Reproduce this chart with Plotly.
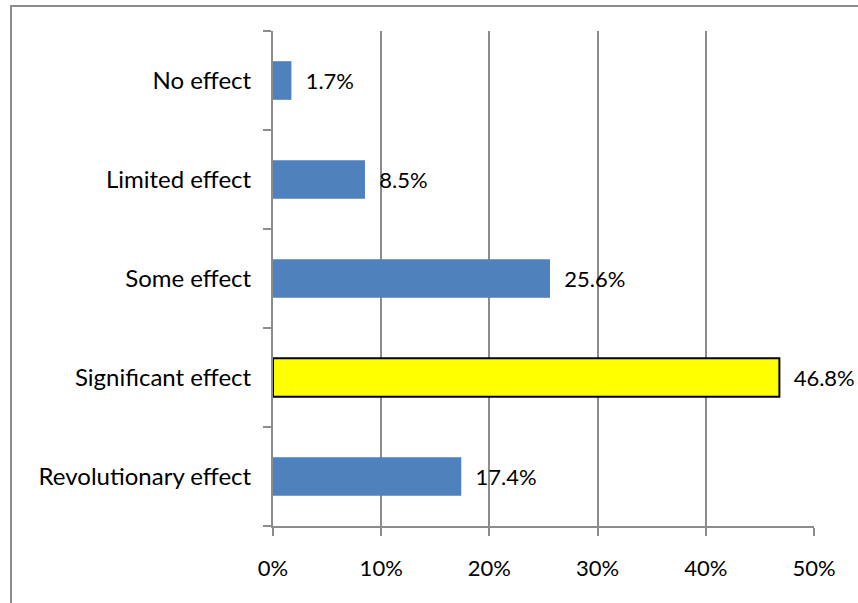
import plotly.graph_objects as go

categories = ["Revolutionary effect", "Significant effect", "Some effect", "Limited effect", "No effect"]
values = [17.4, 46.8, 25.6, 8.5, 1.7]
labels = ["17.4%", "46.8%", "25.6%", "8.5%", "1.7%"]
highlight = "Significant effect"
tick_vals = [0, 10, 20, 30, 40, 50]
tick_text = ["0%", "10%", "20%", "30%", "40%", "50%"]

colors = ["#FFFF00" if c == highlight else "#4F81BD" for c in categories]
line_colors = ["#000000" if c == highlight else "#4F81BD" for c in categories]
line_widths = [2 if c == highlight else 0 for c in categories]

font_family = "Lato, 'Open Sans', sans-serif"

fig = go.Figure(go.Bar(
    x=values, y=categories, orientation="h",
    marker=dict(color=colors, line=dict(color=line_colors, width=line_widths)),
    width=0.39,
    text=labels, texttemplate="  %{text}", textposition="outside", cliponaxis=False,
    textfont=dict(size=22, color="#000000", family=font_family),
))

fig.update_layout(
    width=858, height=603,
    margin=dict(l=273, r=44, t=31, b=77),
    paper_bgcolor="white", plot_bgcolor="white",
    showlegend=False,
    font=dict(family=font_family, size=22, color="#000000"),
    xaxis=dict(
        range=[0, 50], tickvals=tick_vals, ticktext=tick_text,
        showgrid=True, gridcolor="#8C8C8C", gridwidth=1.5,
        showline=True, linecolor="#8C8C8C", linewidth=2,
        ticks="outside", ticklen=8, tickcolor="#8C8C8C", tickwidth=2,
        zeroline=False, tickfont=dict(size=22), ticklabelstandoff=14,
    ),
    yaxis=dict(
        categoryorder="array", categoryarray=categories,
        showgrid=False, showline=True, linecolor="#8C8C8C", linewidth=2,
        ticks="outside", ticklen=8, tickcolor="#8C8C8C", tickwidth=2,
        tickson="boundaries", ticklabelstandoff=15,
        tickfont=dict(size=24),
    ),
    shapes=[dict(
        type="rect", xref="paper", yref="paper",
        x0=-262/541, x1=1.2, y0=-0.3, y1=1 + 25/495,
        line=dict(color="#8C8C8C", width=2), fillcolor="rgba(0,0,0,0)",
        layer="below",
    )],
)

fig.write_html("out.html")
